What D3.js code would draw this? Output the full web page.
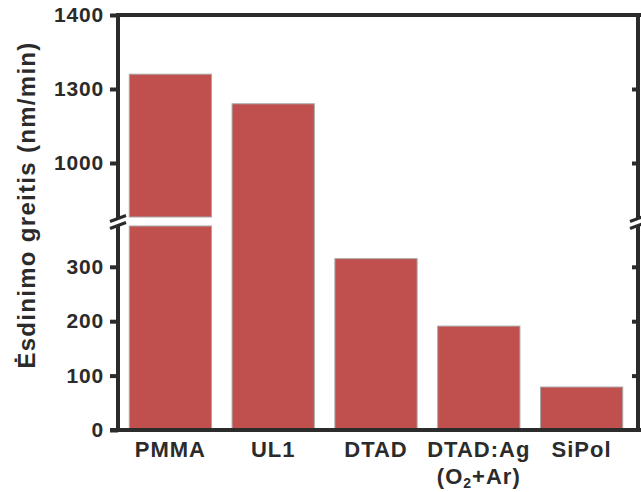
<!DOCTYPE html>
<html>
<head>
<meta charset="utf-8">
<script src="https://cdn.jsdelivr.net/npm/d3@7"></script>
<style>
  body { margin: 0; background: #fff; }
  text { font-family: "Liberation Sans", Arial, sans-serif; font-weight: bold; fill: #2b2b2b; }
</style>
</head>
<body>
<svg id="chart" width="641" height="492"></svg>
<script>
// chart data
const categories = ['PMMA', 'UL1', 'DTAD', 'DTAD:Ag', 'SiPol'];
const etchRates = [1320, 1280, 315, 191, 79];
const splitBars = ['PMMA'];           // bars drawn with the white break gap
const lowerTicks = [0, 100, 200, 300];
const upperTicks = [1200, 1300, 1400];
const upperTickLabels = ['1000', '1300', '1400'];

const svg = d3.select('#chart');
const axisColor = '#2b2b2b';
const barColor = '#c0504d';

const plotLeft = 118, plotRight = 638, plotTop = 15, plotBottom = 430;
const breakLow = 226, breakHigh = 217;

const x = d3.scaleBand()
    .domain(categories)
    .range([119, 633])
    .paddingInner(0.2)
    .paddingOuter(0.1);

const yLower = d3.scaleLinear().domain([0, 375]).range([plotBottom, breakLow]);
const yUpper = d3.scaleLinear().domain([1127, 1400]).range([breakHigh, plotTop]);

function yTop(v) {
    return v > 375 ? yUpper(v) : yLower(v);
}

// bars
const bars = categories.map((c, i) => ({ name: c, value: etchRates[i] }));
const pieces = [];
bars.forEach(b => {
    if (splitBars.includes(b.name)) {
        pieces.push({ name: b.name, y0: yUpper(b.value), y1: breakHigh });
        pieces.push({ name: b.name, y0: breakLow, y1: yLower(0) });
    } else {
        pieces.push({ name: b.name, y0: yTop(b.value), y1: yLower(0) });
    }
});

svg.selectAll('rect.bar')
    .data(pieces)
    .enter()
    .append('rect')
    .attr('class', 'bar')
    .attr('x', d => x(d.name))
    .attr('y', d => d.y0)
    .attr('width', x.bandwidth())
    .attr('height', d => d.y1 - d.y0)
    .attr('fill', barColor)
    .attr('stroke', '#a8a8a8')
    .attr('stroke-width', 1);

// axes (ticks only, frame drawn by hand)
function styleAxis(g) {
    g.select('.domain').remove();
    g.selectAll('.tick line').attr('stroke', axisColor).attr('stroke-width', 4);
    g.selectAll('.tick text')
        .attr('font-size', 21)
        .attr('letter-spacing', 0.8)
        .attr('font-family', '"Liberation Sans", Arial, sans-serif')
        .attr('font-weight', 'bold')
        .attr('fill', axisColor);
}

svg.append('g')
    .attr('transform', `translate(${plotLeft},0)`)
    .call(d3.axisLeft(yLower).tickValues(lowerTicks).tickSize(8).tickPadding(6))
    .call(styleAxis);

svg.append('g')
    .attr('transform', `translate(${plotLeft},0)`)
    .call(d3.axisLeft(yUpper).tickValues(upperTicks)
        .tickFormat((d, i) => upperTickLabels[i]).tickSize(8).tickPadding(6))
    .call(styleAxis);

svg.append('g')
    .attr('transform', `translate(${plotRight},0)`)
    .call(d3.axisRight(yLower).tickValues(lowerTicks.slice(1)).tickFormat('').tickSize(-6))
    .call(styleAxis);

svg.append('g')
    .attr('transform', `translate(${plotRight},0)`)
    .call(d3.axisRight(yUpper).tickValues(upperTicks.slice(0, 2)).tickFormat('').tickSize(-6))
    .call(styleAxis);

// frame lines
const frame = [
    [plotLeft, plotTop - 2, plotLeft, 219],
    [plotLeft, 225, plotLeft, plotBottom + 2],
    [plotRight, plotTop - 2, plotRight, 219],
    [plotRight, 225, plotRight, plotBottom + 2],
    [plotLeft - 2, plotTop, 641, plotTop],
    [110, plotBottom, 641, plotBottom]
];
svg.selectAll('line.frame')
    .data(frame)
    .enter()
    .append('line')
    .attr('x1', d => d[0]).attr('y1', d => d[1])
    .attr('x2', d => d[2]).attr('y2', d => d[3])
    .attr('stroke', axisColor)
    .attr('stroke-width', 4);

// break marks
[plotLeft, plotRight].forEach(ax => {
    [218.5, 225.5].forEach(by => {
        svg.append('line')
            .attr('x1', ax - 8).attr('y1', by + 3)
            .attr('x2', ax + 8).attr('y2', by - 3)
            .attr('stroke', axisColor)
            .attr('stroke-width', 3);
    });
});

// x labels
const labels = svg.append('g');
categories.forEach(c => {
    const cx = x(c) + x.bandwidth() / 2;
    const t = labels.append('text')
        .attr('x', cx)
        .attr('y', 457)
        .attr('text-anchor', 'middle')
        .attr('letter-spacing', 1)
        .attr('font-size', 22);
    t.append('tspan').text(c);
    if (c === 'DTAD:Ag') {
        const t2 = labels.append('text')
            .attr('x', cx)
            .attr('y', 484)
            .attr('text-anchor', 'middle')
            .attr('letter-spacing', 1)
            .attr('font-size', 22);
        t2.append('tspan').text('(O');
        t2.append('tspan').attr('font-size', 14).attr('dy', 4).text('2');
        t2.append('tspan').attr('dy', -4).text('+Ar)');
    }
});

// y title
svg.append('text')
    .attr('transform', 'translate(35,205) rotate(-90)')
    .attr('text-anchor', 'middle')
    .attr('letter-spacing', 1.3)
    .attr('font-size', 24)
    .text('Ėsdinimo greitis (nm/min)');
</script>
</body>
</html>
